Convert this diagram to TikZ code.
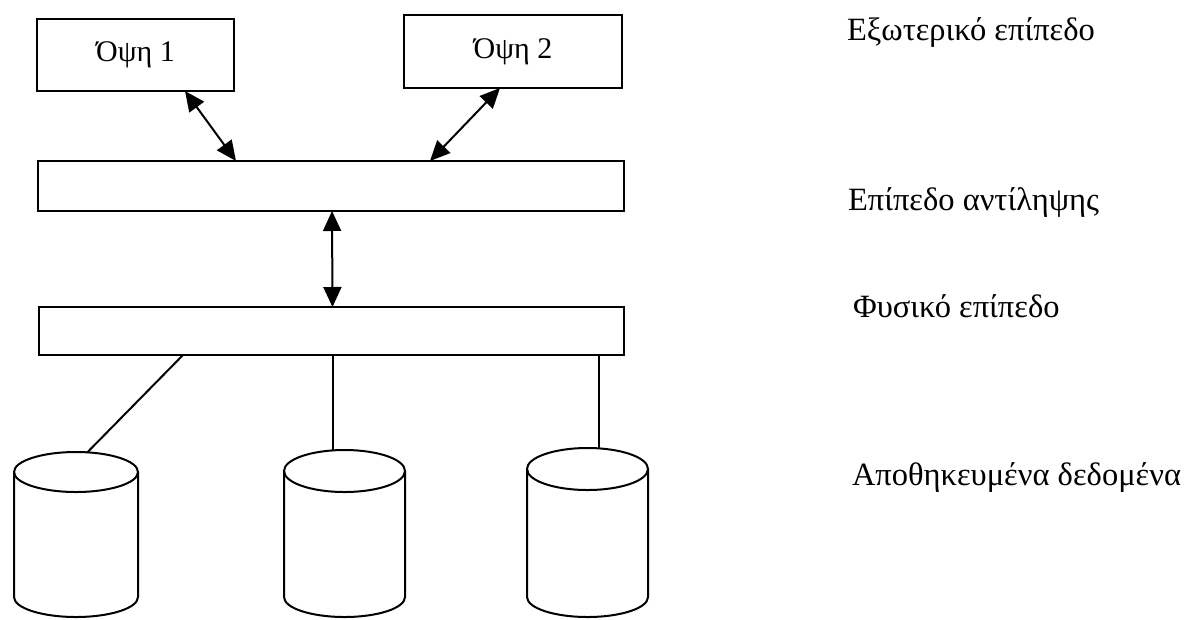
\documentclass[tikz,border=0pt]{standalone}
\usepackage{fontspec}
\setmainfont{Liberation Serif}
\usetikzlibrary{arrows.meta,calc,shapes.geometric}
\begin{document}
\begin{tikzpicture}[x=1pt,y=-1pt,
  every node/.style={inner sep=0pt,outer sep=0pt},
  viewbox/.style={draw,line width=2pt,rectangle,font=\fontsize{30}{33}\selectfont},
  levelbar/.style={draw,line width=2pt,rectangle},
  disktop/.style={draw,line width=2pt,ellipse},
  levellabel/.style={anchor=base west,font=\fontsize{32.5}{36}\selectfont},
  link/.style={line width=2pt},
  dblarrow/.style={line width=2pt,{Triangle[length=20pt,width=18pt]}-{Triangle[length=20pt,width=18pt]}}
]
\useasboundingbox (0,0) rectangle (1190,619);

% view boxes
\node[viewbox,minimum width=197pt,minimum height=72pt] (box1) at (135.5,55) {Όψη 1};
\node[viewbox,minimum width=218pt,minimum height=73pt] (box2) at (513,51.5) {Όψη 2};

% level bars
\node[levelbar,minimum width=586pt,minimum height=50pt] (bar1) at (331,186) {};
\node[levelbar,minimum width=585pt,minimum height=48pt] (bar2) at (331.5,331) {};

% cylinders (stored data)
\node[disktop,minimum width=124pt,minimum height=40pt] (c1top) at (76,472) {};
\node[disktop,minimum width=121pt,minimum height=42pt] (c2top) at (344.5,471) {};
\node[disktop,minimum width=121pt,minimum height=42pt] (c3top) at (587.5,469) {};
\foreach \c/\cx/\rx/\cy in {c1top/76/62/472, c2top/344.5/60.5/471, c3top/587.5/60.5/469}{
  \draw[link] (\cx-\rx,\cy) -- (\cx-\rx,597) arc[start angle=180,end angle=0,x radius=\rx,y radius=20] -- (\cx+\rx,\cy);
}

% arrows between levels
\draw[dblarrow] ($(box1.south)+(49.5,0)$) -- ($(bar1.north west)+(198,0)$);
\draw[dblarrow] ($(box2.south)+(-13,0)$) -- ($(bar1.north west)+(392,0)$);
\draw[dblarrow] ($(bar1.south)+(1,0)$) -- ($(bar2.north)+(1,0)$);

% links to storage
\draw[link] ($(bar2.south west)+(144,0)$) -- (c1top.60);
\draw[link] (bar2.south -| c2top.119) -- (c2top.119);
\draw[link] (bar2.south -| c3top.61) -- (c3top.61);

% level labels
\node[levellabel] (l1) at (847,40) {Εξωτερικό επίπεδο};
\node[levellabel] (l2) at (848,210) {Επίπεδο αντίληψης};
\node[levellabel] (l3) at (853,317) {Φυσικό επίπεδο};
\node[levellabel] (l4) at (852,485) {Αποθηκευμένα δεδομένα};
\end{tikzpicture}
\end{document}
